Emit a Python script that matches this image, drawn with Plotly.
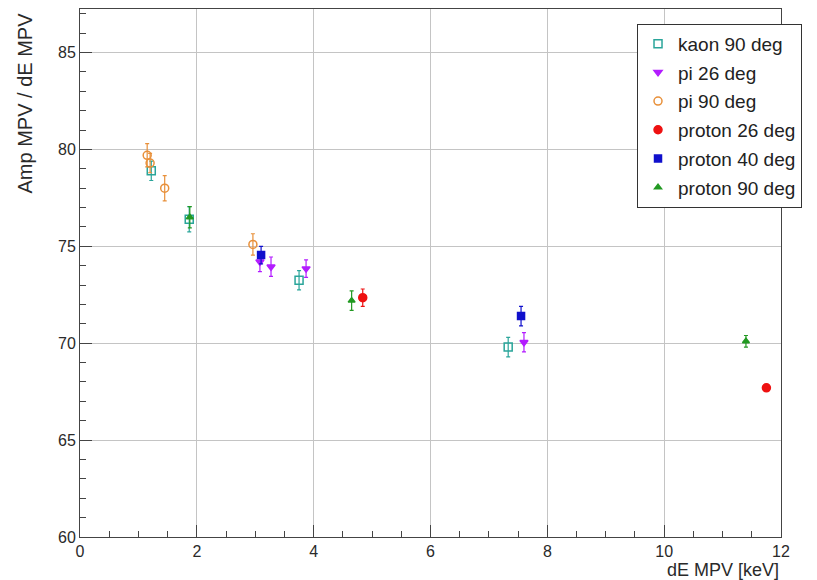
import plotly.graph_objects as go

# data (x = dE MPV [keV], y = Amp MPV / dE MPV, e = error)
kaon90_x = [1.22, 1.87, 3.75, 7.33]
kaon90_y = [78.9, 76.4, 73.25, 69.8]
kaon90_e = [0.5, 0.65, 0.5, 0.5]

pi26_x = [3.08, 3.27, 3.87, 7.6]
pi26_y = [74.2, 73.95, 73.85, 70.05]
pi26_e = [0.5, 0.5, 0.45, 0.5]

pi90_x = [1.15, 1.2, 1.45, 2.96]
pi90_y = [79.7, 79.3, 78.0, 75.1]
pi90_e = [0.6, 0.5, 0.65, 0.55]

p26_x = [4.84, 11.75]
p26_y = [72.35, 67.7]
p26_e = [0.45, 0.1]

p40_x = [3.1, 7.55]
p40_y = [74.55, 71.4]
p40_e = [0.45, 0.5]

p90_x = [1.88, 4.65, 11.4]
p90_y = [76.5, 72.2, 70.1]
p90_e = [0.55, 0.5, 0.3]

series = [
    ("kaon 90 deg", kaon90_x, kaon90_y, kaon90_e, "#2aa59a", "square-open", 8),
    ("pi 26 deg", pi26_x, pi26_y, pi26_e, "#b31cff", "triangle-down", 7),
    ("pi 90 deg", pi90_x, pi90_y, pi90_e, "#e8903a", "circle-open", 8),
    ("proton 26 deg", p26_x, p26_y, p26_e, "#ee1111", "circle", 8),
    ("proton 40 deg", p40_x, p40_y, p40_e, "#1010cc", "square", 7),
    ("proton 90 deg", p90_x, p90_y, p90_e, "#229922", "triangle-up", 6),
]

fig = go.Figure()
for i, (name, xs, ys, es, col, sym, sz) in enumerate(series):
    fig.add_trace(go.Scatter(
        x=xs, y=ys, mode="markers", name=name,
        legendgroup=f"g{i}",
        marker=dict(color=col, symbol=sym, size=sz, line=dict(color=col, width=1.5)),
        error_y=dict(type="data", array=es, color=col, thickness=1.2, width=2),
    ))

FAM = "Liberation Sans, Arial, sans-serif"
tick_font = dict(family=FAM, size=16, color="#2a2a2a")
title_font = dict(family=FAM, size=18, color="#2a2a2a")

fig.update_layout(
    width=809, height=572,
    margin=dict(l=72, r=36, t=1, b=43, autoexpand=False),
    paper_bgcolor="white", plot_bgcolor="white",
    font=tick_font,
    showlegend=True,
    legend=dict(
        x=0.7946, y=0.972, xanchor="left", yanchor="top",
        bordercolor="#333333", borderwidth=1, bgcolor="white",
        font=dict(family=FAM, size=19, color="#222222"),
        tracegroupgap=1, itemwidth=30,
    ),
    xaxis=dict(
        range=[0, 12], dtick=2, tick0=0, automargin=False,
        showgrid=True, gridcolor="#c4c4c4", gridwidth=1,
        showline=True, linecolor="#444444", linewidth=1, mirror=True,
        ticks="inside", ticklen=12, tickcolor="#444444", tickfont=tick_font,
        minor=dict(ticks="inside", ticklen=6, dtick=0.5, tickcolor="#444444", showgrid=False),
        zeroline=False,
    ),
    yaxis=dict(
        range=[60, 87.25], dtick=5, tick0=60, automargin=False,
        showgrid=True, gridcolor="#c4c4c4", gridwidth=1,
        showline=True, linecolor="#444444", linewidth=1, mirror=True,
        ticks="inside", ticklen=12, tickcolor="#444444", tickfont=tick_font,
        minor=dict(ticks="inside", ticklen=6, dtick=1, tickcolor="#444444", showgrid=False),
        zeroline=False,
    ),
    annotations=[
        dict(text="dE MPV [keV]", xref="paper", yref="paper", x=1.0, y=-0.062,
             xanchor="right", yanchor="middle", showarrow=False, font=title_font),
        dict(text="Amp MPV / dE MPV", xref="paper", yref="paper", x=-0.0785, y=0.998,
             xanchor="center", yanchor="top", textangle=-90, showarrow=False,
             font=dict(family=FAM, size=20, color="#2a2a2a")),
    ],
)

fig.write_html("out.html")
